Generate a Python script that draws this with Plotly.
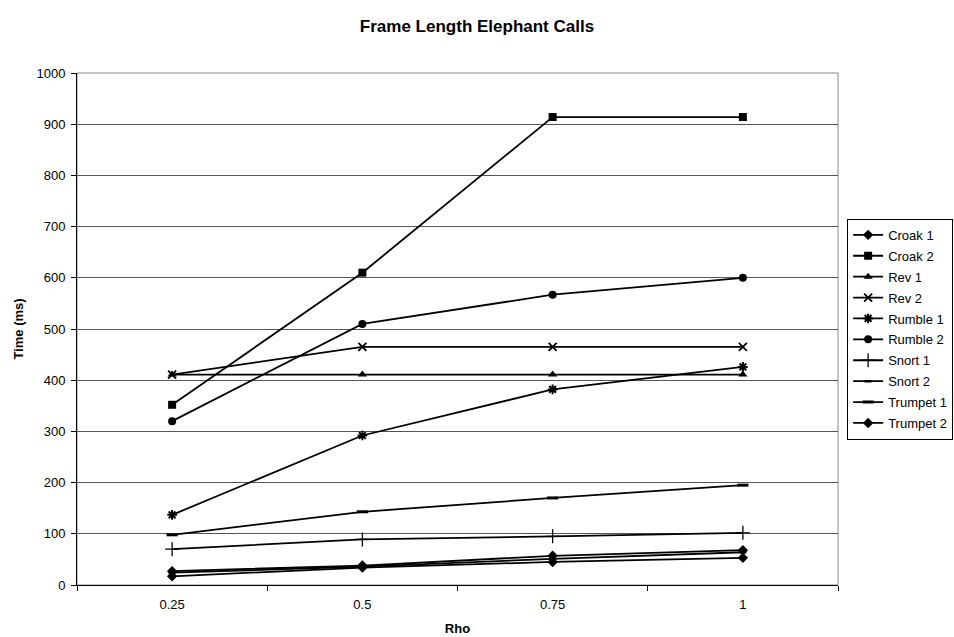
import plotly.graph_objects as go

# Rho settings (category axis)
rho = ["0.25", "0.5", "0.75", "1"]

# Frame length times (ms) per call type
croak_1 = [27, 38, 57, 68]
croak_2 = [352, 610, 914, 914]
rev_1 = [411, 411, 411, 411]
rev_2 = [411, 465, 465, 465]
rumble_1 = [137, 292, 382, 426]
rumble_2 = [320, 510, 567, 600]
snort_1 = [70, 89, 95, 102]
snort_2 = [24, 36, 51, 64]
trumpet_1 = [98, 143, 170, 195]
trumpet_2 = [17, 34, 45, 53]

series = [
    ("Croak 1", croak_1, "diamond", 8, 0),
    ("Croak 2", croak_2, "square", 8, 0),
    ("Rev 1", rev_1, "triangle-up", 8, 0),
    ("Rev 2", rev_2, "x-thin", 8, 1.8),
    ("Rumble 1", rumble_1, "asterisk", 8, 2),
    ("Rumble 2", rumble_2, "circle", 8, 0),
    ("Snort 1", snort_1, "cross-thin", 10, 1.3),
    ("Snort 2", snort_2, "line-ew", 5, 2.5),
    ("Trumpet 1", trumpet_1, "line-ew", 8, 3),
    ("Trumpet 2", trumpet_2, "diamond", 8, 0),
]

fig = go.Figure()
for i, (name, vals, sym, size, lw) in enumerate(series):
    fig.add_trace(go.Scatter(
        x=rho, y=vals, name=name, mode="lines+markers", legendgroup=f"g{i}",
        line=dict(color="black", width=1.8),
        marker=dict(symbol=sym, size=size, color="black",
                    line=dict(color="black", width=lw)),
    ))

font = "Liberation Sans, Arial, sans-serif"
fig.update_layout(
    width=954, height=637,
    margin=dict(l=77, r=116, t=73, b=52, autoexpand=False),
    paper_bgcolor="white", plot_bgcolor="white",
    font=dict(family=font, size=13, color="black"),
    title=dict(text="<b>Frame Length Elephant Calls</b>", x=0.5, xanchor="center",
               xref="container", y=1 - 26 / 637, yanchor="middle",
               font=dict(size=17, family=font)),
    xaxis=dict(
        type="category", tickson="boundaries", ticks="outside", ticklen=5,
        tickcolor="black", showline=True, linecolor="black", linewidth=1,
        mirror=False, showgrid=False, range=[-0.5, 3.5], ticklabelstandoff=7,
        title=dict(text="<b>Rho</b>", standoff=13, font=dict(size=13)),
        tickfont=dict(size=13),
    ),
    yaxis=dict(
        range=[0, 1000], dtick=100, ticks="outside", ticklen=5,
        tickcolor="black", showline=True, linecolor="black", linewidth=1,
        showgrid=True, gridcolor="#555555", gridwidth=1, zeroline=False,
        ticklabelstandoff=3,
        title=dict(text="<b>Time (ms)</b>", standoff=9, font=dict(size=13)),
        tickfont=dict(size=13),
    ),
    legend=dict(
        x=1.012, y=0.715, xanchor="left", yanchor="top",
        bordercolor="black", borderwidth=1, bgcolor="white",
        font=dict(size=13), tracegroupgap=1, itemwidth=30,
    ),
)

# grey frame around the plotting area
fig.add_shape(type="rect", xref="paper", yref="paper", x0=0, y0=0, x1=1, y1=1,
              line=dict(color="#888888", width=1), layer="below")

fig.write_html("out.html")
